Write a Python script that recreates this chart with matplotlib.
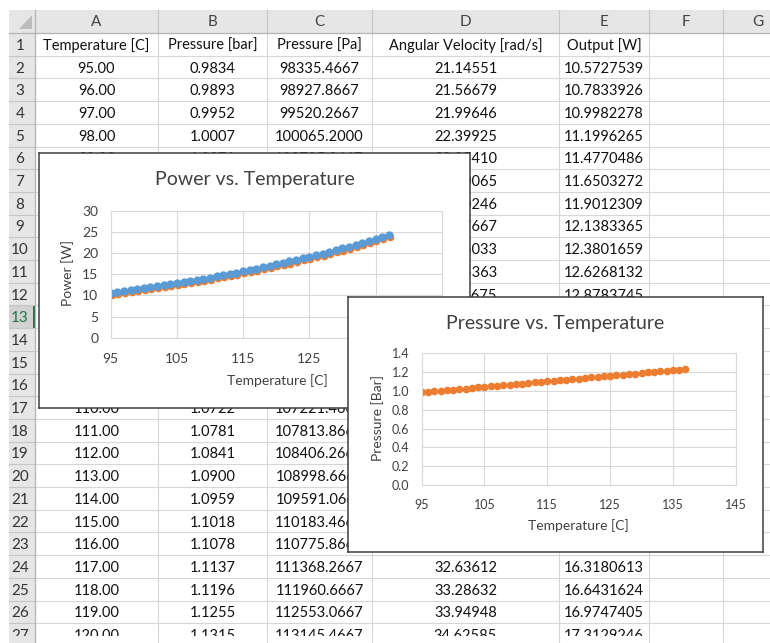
import matplotlib.pyplot as plt
from matplotlib.patches import Rectangle, Polygon
from matplotlib.ticker import FormatStrFormatter
import matplotlib.transforms as mtransforms

plt.rcParams['font.family'] = ['Lato', 'DejaVu Sans']

# ---- data ----
temperature = [95, 96, 97, 98, 99, 100, 101, 102, 103, 104, 105, 106, 107, 108,
               109, 110, 111, 112, 113, 114, 115, 116, 117, 118, 119, 120, 121,
               122, 123, 124, 125, 126, 127, 128, 129, 130, 131, 132, 133, 134,
               135, 136, 137]
pressure_bar = [0.9834, 0.9893, 0.9952, 1.0007, 1.0071, 1.0130, 1.0189, 1.0248,
                1.0307, 1.0367, 1.0426, 1.0485, 1.0544, 1.0604, 1.0663, 1.0722,
                1.0781, 1.0841, 1.0900, 1.0959, 1.1018, 1.1078, 1.1137, 1.1196,
                1.1255, 1.1315, 1.1374, 1.1433, 1.1493, 1.1552, 1.1611, 1.1670,
                1.1730, 1.1789, 1.1848, 1.1907, 1.1967, 1.2026, 1.2085, 1.2144,
                1.2204, 1.2263, 1.2322]
output_w = [10.5727539, 10.7833926, 10.9982278, 11.1996265, 11.4770486,
            11.6503272, 11.9012309, 12.1383365, 12.3801659, 12.6268132,
            12.8783745, 13.1349, 13.3964, 13.6631, 13.9351, 14.2126, 14.4956,
            14.7843, 15.0788, 15.3792, 15.6856, 15.9982, 16.3180613, 16.6431624,
            16.9747405, 17.3129246, 17.6579, 18.0099, 18.3689, 18.7349, 19.1079,
            19.4889, 19.8769, 20.2729, 20.6769, 21.0889, 21.5089, 21.9379,
            22.3749, 22.8209, 23.2759, 23.7399, 24.2129]
# sheet rows 2-27 only
pressure_pa = [98335.4667, 98927.8667, 99520.2667, 100065.2000, 100705.0667,
               101297.4667, 101889.8667, 102482.2667, 103074.6667, 103667.0667,
               104259.4667, 104851.8667, 105444.2667, 106036.6667, 106629.0667,
               107221.4667, 107813.8667, 108406.2667, 108998.6667, 109591.0667,
               110183.4667, 110775.8667, 111368.2667, 111960.6667, 112553.0667,
               113145.4667]
angular_velocity = [21.14551, 21.56679, 21.99646, 22.39925, 22.95410, 23.30065,
                    23.80246, 24.27667, 24.76033, 25.25363, 25.75675, 26.26980,
                    26.79280, 27.32620, 27.87020, 28.42520, 28.99120, 29.56860,
                    30.15760, 30.75840, 31.37120, 31.99640, 32.63612, 33.28632,
                    33.94948, 34.62585]

col_letters = ['A', 'B', 'C', 'D', 'E', 'F', 'G']
col_headers = ['Temperature [C]', 'Pressure [bar]', 'Pressure [Pa]',
               'Angular Velocity [rad/s]', 'Output [W]', '', '']
x_ticks = [95, 105, 115, 125, 135, 145]
power_ticks = [0, 5, 10, 15, 20, 25, 30]
pressure_ticks = [0.0, 0.2, 0.4, 0.6, 0.8, 1.0, 1.2, 1.4]

# ---- layout in screenshot pixels ----
W, H = 770, 643
col_edges = [35, 158, 267, 372, 559, 649, 723, 800]
row_top = 33.0
row_h = 22.7
n_rows = 27
active_row = 13
cut_y = 636      # the screenshot ends partway through row 27

grid_c = '#D6D6D6'
head_bg = '#E6E6E6'
head_line = '#C6C6C6'
txt_c = '#111111'
label_c = '#404040'
blue = '#5B9BD5'
orange = '#ED7D31'

fig = plt.figure(figsize=(W / 100, H / 100), dpi=100)

# spreadsheet background
sheet = fig.add_axes([0, 0, 1, 1])
sheet.set_xlim(0, W)
sheet.set_ylim(H, 0)
sheet.axis('off')

sheet.add_patch(Rectangle((9, 10), W - 9, row_top - 10, fc=head_bg, ec='none'))
sheet.add_patch(Rectangle((9, row_top), col_edges[0] - 9, H - row_top, fc=head_bg, ec='none'))
sheet.add_patch(Polygon([[32, 15], [32, 29], [19, 29]], closed=True, fc='#BDBDBD', ec='none'))

# active row header
ay = row_top + (active_row - 1) * row_h
sheet.add_patch(Rectangle((9, ay), col_edges[0] - 9, row_h, fc='#D2D2D2', ec='none'))
sheet.add_patch(Rectangle((col_edges[0] - 2.5, ay), 2.5, row_h, fc='#217346', ec='none'))

# grid lines
for r in range(n_rows + 1):
    y = row_top + r * row_h
    sheet.plot([9, col_edges[0]], [y, y], color=head_line, lw=0.8)
    sheet.plot([col_edges[0], W], [y, y], color=grid_c, lw=0.8)
for x in col_edges:
    sheet.plot([x, x], [10, row_top], color=head_line, lw=0.8)
    sheet.plot([x, x], [row_top, H], color=grid_c, lw=0.8)
sheet.plot([9, W], [row_top, row_top], color='#B5B5B5', lw=0.9)
sheet.plot([col_edges[0], col_edges[0]], [10, H], color='#B5B5B5', lw=0.9)

cut_clip = Rectangle((0, 0), W, cut_y, transform=sheet.transData, fc='none', ec='none')

# column letters and row numbers
for j, letter in enumerate(col_letters):
    xc = (col_edges[j] + col_edges[j + 1]) / 2
    if j == 6:
        xc = 758
    sheet.text(xc, (10 + row_top) / 2 + 1, letter, ha='center', va='center',
               fontsize=11, color='#444444')
for r in range(1, n_rows + 1):
    yc = row_top + (r - 0.5) * row_h
    t = sheet.text(20, yc + 1.5, str(r), ha='center', va='center', fontsize=11,
                   color='#217346' if r == active_row else '#333333')
    t.set_clip_on(True)
    t.set_clip_path(cut_clip)


# cell contents
def put_row(r, values):
    yc = row_top + (r - 0.5) * row_h
    for j, v in enumerate(values):
        xc = (col_edges[j] + col_edges[j + 1]) / 2
        t = sheet.text(xc, yc + 1.5, v, ha='center', va='center', fontsize=10.5, color=txt_c)
        t.set_clip_on(True)
        t.set_clip_path(cut_clip)


put_row(1, col_headers[:5])
for i in range(len(pressure_pa)):
    put_row(i + 2, [f'{temperature[i]:.2f}', f'{pressure_bar[i]:.4f}',
                    f'{pressure_pa[i]:.4f}', f'{angular_velocity[i]:.5f}',
                    f'{output_w[i]:.7f}'])


def px_axes(x0, y0, x1, y1):
    return fig.add_axes([x0 / W, 1 - y1 / H, (x1 - x0) / W, (y1 - y0) / H])


def chart_frame(x0, y0, x1, y1):
    ax = px_axes(x0, y0, x1, y1)
    ax.set_xlim(x0, x1)
    ax.set_ylim(y1, y0)
    ax.set_xticks([])
    ax.set_yticks([])
    ax.set_facecolor('white')
    for s in ax.spines.values():
        s.set_color('#3F3F3F')
        s.set_linewidth(1.1)
    return ax


def plot_area(box, xpad, ypad, labelsize):
    ax = px_axes(*box)
    ax.set_facecolor('none')
    ax.grid(True, color='#D9D9D9', lw=0.8)
    ax.set_axisbelow(True)
    for s in ax.spines.values():
        s.set_color('#D9D9D9')
        s.set_linewidth(0.8)
    ax.tick_params(length=0, colors=label_c, labelsize=labelsize)
    ax.tick_params(axis='x', pad=xpad)
    ax.tick_params(axis='y', pad=ypad)
    return ax


# ---- chart 1: Power vs. Temperature ----
f1 = chart_frame(39, 153, 470, 408)
f1.text(255, 180, 'Power vs. Temperature', ha='center', va='center', fontsize=14, color=label_c)
f1.text(68, 273, 'Power [W]', ha='center', va='center', rotation=90, fontsize=10, color=label_c)
f1.text(277, 381, 'Temperature [C]', ha='center', va='center', fontsize=10, color=label_c)

ax1 = plot_area((110.7, 210.7, 441.7, 337.7), 11, 9, 10)
shift = mtransforms.offset_copy(ax1.transData, fig=fig, x=0.7, y=-1.5, units='points')
ax1.plot(temperature, output_w, 'o', color=orange, ms=5.5, mew=0, transform=shift)
ax1.plot(temperature, output_w, 'o', color=blue, ms=6, mew=0)
ax1.set_xlim(95, 145)
ax1.set_ylim(0, 30)
ax1.set_xticks(x_ticks)
ax1.set_yticks(power_ticks)

# ---- chart 2: Pressure vs. Temperature ----
f2 = chart_frame(348, 297, 763, 552)
f2.text(555, 324, 'Pressure vs. Temperature', ha='center', va='center', fontsize=14, color=label_c)
f2.text(378, 418, 'Pressure [Bar]', ha='center', va='center', rotation=90, fontsize=10, color=label_c)
f2.text(578, 526, 'Temperature [C]', ha='center', va='center', fontsize=10, color=label_c)

ax2 = plot_area((421.7, 353.3, 735.7, 485), 10, 9, 9)
ax2.plot(temperature, pressure_bar, 'o', color=orange, ms=5.5, mew=0)
ax2.set_xlim(95, 145)
ax2.set_ylim(0, 1.4)
ax2.set_xticks(x_ticks)
ax2.set_yticks(pressure_ticks)
ax2.yaxis.set_major_formatter(FormatStrFormatter('%.1f'))

fig.savefig('out.png', dpi=100)
